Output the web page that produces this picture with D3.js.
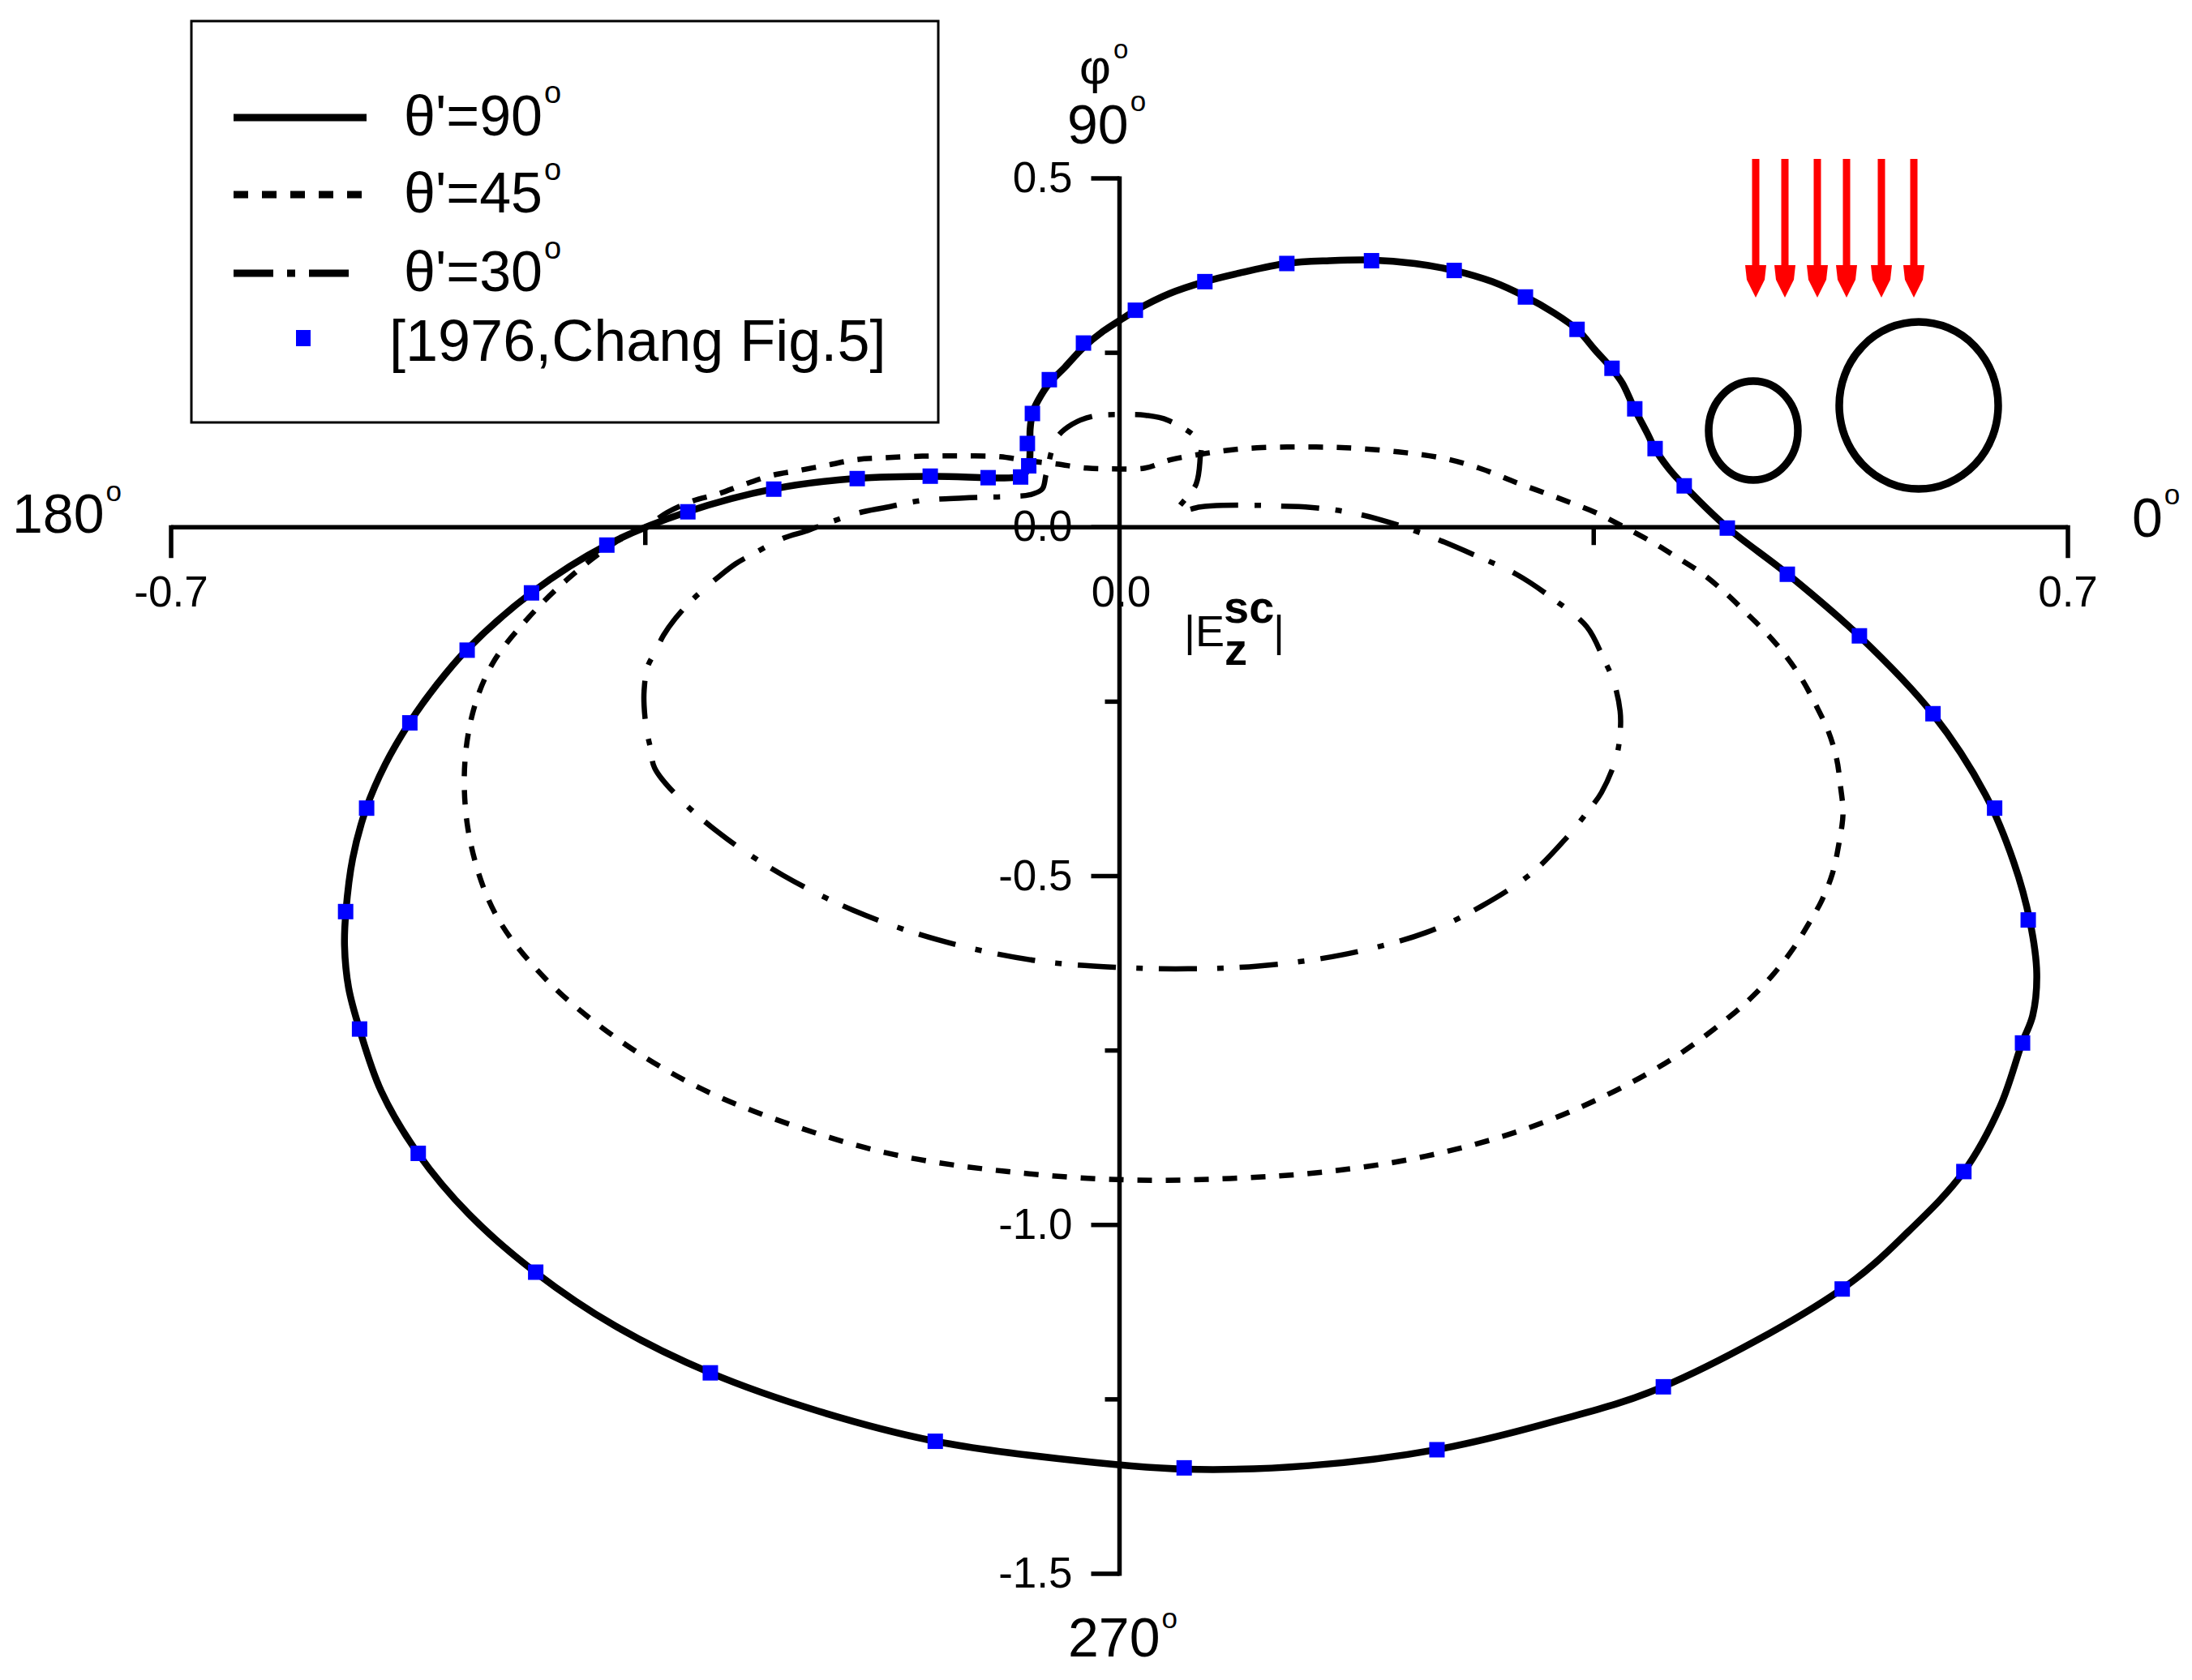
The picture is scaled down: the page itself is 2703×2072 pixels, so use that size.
<!DOCTYPE html>
<html><head><meta charset="utf-8">
<script src="https://cdn.jsdelivr.net/npm/d3@7"></script>
<style>html,body{margin:0;padding:0;background:#fff;} svg{display:block;}</style>
</head><body>
<script>
// ---------------- data (x = |E| cos φ, y = |E| sin φ) ----------------
const legendLabels = ["θ'=90", "θ'=45", "θ'=30", "[1976,Chang Fig.5]"];
const xTickMajor = [-0.7, 0, 0.7];
const xTickLabels = ["-0.7", "0.0", "0.7"];
const xTickMinor = [-0.35, 0.35];
const yTickMajor = [0.5, 0, -0.5, -1.0, -1.5];
const yTickLabels = ["0.5", "0.0", "-0.5", "-1.0", "-1.5"];
const yTickMinor = [0.25, -0.25, -0.75, -1.25];

const theta90 = [
 [-0.137,0.073],[-0.097,0.071],[-0.079,0.071],[-0.071,0.075],[-0.067,0.088],[-0.066,0.115],[-0.066,0.140],
 [-0.064,0.165],[-0.060,0.182],[-0.052,0.206],[-0.040,0.230],[-0.027,0.257],[-0.012,0.281],
 [0.003,0.300],[0.012,0.311],[0.037,0.335],[0.063,0.352],[0.090,0.365],[0.123,0.378],
 [0.155,0.382],[0.186,0.383],[0.218,0.378],[0.247,0.368],[0.275,0.352],[0.300,0.330],
 [0.320,0.308],[0.338,0.283],[0.351,0.254],[0.363,0.228],[0.371,0.207],[0.380,0.170],
 [0.390,0.133],[0.395,0.113],[0.405,0.085],[0.417,0.059],[0.449,-0.001],[0.493,-0.067],
 [0.546,-0.156],[0.600,-0.267],[0.639,-0.383],[0.660,-0.480],[0.672,-0.565],[0.677,-0.640],
 [0.674,-0.700],[0.666,-0.740],[0.650,-0.830],[0.623,-0.924],[0.583,-1.008],[0.533,-1.092],
 [0.401,-1.232],[0.320,-1.282],[0.234,-1.322],[0.140,-1.345],[0.048,-1.350],[-0.045,-1.335],
 [-0.136,-1.310],[-0.222,-1.267],[-0.302,-1.212],[-0.372,-1.145],[-0.431,-1.068],[-0.480,-0.985],
 [-0.518,-0.897],[-0.545,-0.808],[-0.561,-0.719],[-0.569,-0.660],[-0.572,-0.600],[-0.571,-0.551],[-0.566,-0.475],
 [-0.556,-0.403],[-0.542,-0.340],[-0.524,-0.280],[-0.504,-0.226],[-0.482,-0.176],[-0.434,-0.094],
 [-0.378,-0.025],[-0.319,0.022],[-0.255,0.055],[-0.194,0.070]
];

const theta45 = [
 [-0.3473,0.0035],[-0.3341,0.0209],[-0.3156,0.0372],[-0.2965,0.0476],[-0.2767,0.0616],[-0.2564,0.0744],
 [-0.2366,0.0813],[-0.2145,0.0895],[-0.1936,0.0970],[-0.1738,0.0995],[-0.1517,0.1015],[-0.1301,0.1023],
 [-0.1122,0.1023],[-0.0882,0.1011],[-0.0679,0.0953],[-0.0464,0.0906],[-0.0242,0.0848],[-0.0045,0.0837],
 [0.0188,0.0848],[0.0374,0.0965],[0.0595,0.1046],[0.0805,0.1104],[0.1014,0.1139],[0.1235,0.1150],
 [0.1451,0.1150],[0.1672,0.1139],[0.2055,0.1081],[0.2390,0.0988],[0.2671,0.0837],[0.2929,0.0639],
 [0.3126,0.0500],[0.3318,0.0360],[0.3515,0.0209],[0.3706,0.0023],[0.3928,-0.0209],[0.4113,-0.0430],
 [0.4299,-0.0662],[0.4466,-0.0930],[0.4622,-0.1220],[0.4783,-0.1534],[0.4915,-0.1836],[0.5035,-0.2173],
 [0.5142,-0.2557],[0.5232,-0.2928],[0.5292,-0.3312],[0.5322,-0.3719],[0.5340,-0.4102],[0.5310,-0.4532],
 [0.5262,-0.4962],[0.5184,-0.5346],[0.5083,-0.5694],[0.4963,-0.6066],[0.4832,-0.6392],[0.4682,-0.6705],
 [0.4545,-0.6949],[0.4118,-0.7571],[0.3602,-0.8132],[0.2983,-0.8633],[0.2262,-0.9014],[0.1540,-0.9234],
 [0.0817,-0.9334],[0.0043,-0.9354],[-0.0834,-0.9234],[-0.1659,-0.8994],[-0.2381,-0.8593],[-0.3103,-0.8032],
 [-0.3722,-0.7311],[-0.4238,-0.6469],[-0.4599,-0.5568],[-0.4785,-0.4566],[-0.4836,-0.3564],[-0.4774,-0.2663],
 [-0.4630,-0.1962],[-0.4392,-0.1361],[-0.4083,-0.0760],[-0.3722,-0.0219]
];

const theta30 = [
 [0.0428,0.0232],[0.0595,0.0291],[0.0763,0.0314],[0.1032,0.0314],[0.1193,0.0302],[0.1373,0.0291],
 [0.1642,0.0232],[0.1912,0.0116],[0.2271,-0.0116],[0.2630,-0.0407],[0.2929,-0.0674],[0.3198,-0.1023],
 [0.3450,-0.1429],[0.3575,-0.1894],[0.3647,-0.2208],[0.3695,-0.2638],[0.3695,-0.2940],[0.3665,-0.3312],
 [0.3558,-0.3800],[0.3468,-0.4044],[0.3292,-0.4466],[0.3036,-0.4967],[0.2674,-0.5428],[0.2262,-0.5809],
 [0.1643,-0.6129],[0.1024,-0.6289],[0.0508,-0.6329],[-0.0008,-0.6309],[-0.0627,-0.6209],[-0.1349,-0.5909],
 [-0.1968,-0.5488],[-0.2484,-0.4988],[-0.2897,-0.4466],[-0.3206,-0.3966],[-0.3431,-0.3451],[-0.3461,-0.3172],
 [-0.3491,-0.2905],[-0.3509,-0.2557],[-0.3509,-0.2347],[-0.3485,-0.2010],[-0.3425,-0.1778],[-0.3365,-0.1546],
 [-0.3276,-0.1302],[-0.3144,-0.1023],[-0.2965,-0.0720],[-0.2833,-0.0523],[-0.2695,-0.0372],[-0.2474,-0.0151],
 [-0.2318,-0.0058],[-0.2157,0.0058],[-0.1918,0.0209],[-0.1738,0.0279],[-0.1457,0.0383],[-0.1158,0.0418],
 [-0.0991,0.0430],[-0.0781,0.0442],[-0.0661,0.0465],[-0.0571,0.0546],[-0.0542,0.0755],[-0.0464,0.1278],
 [-0.0350,0.1476],[-0.0194,0.1592],[0.0045,0.1615],[0.0194,0.1604],[0.0356,0.1534],[0.0595,0.1220],
 [0.0595,0.0988],[0.0565,0.0616]
];

const chang1976 = [
 [0.0117,0.311],[0.063,0.352],[0.1235,0.378],[0.186,0.382],[0.247,0.368],[0.2996,0.330],
 [0.3377,0.2836],[0.3635,0.2278],[0.3803,0.1697],[0.3953,0.1127],[0.4168,0.0593],[0.4486,-0.0012],
 [0.4929,-0.0674],[0.5461,-0.1557],[0.6004,-0.2673],[0.6459,-0.4026],[0.6707,-0.5629],[0.6665,-0.7392],
 [0.6232,-0.9235],[0.5334,-1.0918],[0.4014,-1.2320],[0.2343,-1.3222],[0.0477,-1.3482],[-0.1360,-1.3101],
 [-0.3020,-1.2120],[-0.4309,-1.0677],[-0.5176,-0.8974],[-0.5609,-0.7192],[-0.5712,-0.5509],[-0.5557,-0.4026],
 [-0.5238,-0.2804],[-0.4815,-0.1762],[-0.4340,-0.0941],[-0.3784,-0.0256],[-0.3186,0.0221],[-0.2552,0.0546],
 [-0.1936,0.0697],[-0.1397,0.0732],[-0.097,0.071],[-0.073,0.072],[-0.067,0.088],[-0.068,0.120],
 [-0.0643,0.163],[-0.0518,0.2115],[-0.0266,0.264]
];

// ---------------- drawing ----------------
const W = 2703, H = 2072;
const FONT = "'Liberation Sans', Arial, sans-serif";
const svg = d3.select("body").append("svg").attr("width", W).attr("height", H)
  .style("font-family", FONT);
svg.append("rect").attr("width", W).attr("height", H).attr("fill", "#fff");

const x = d3.scaleLinear().domain([-0.7, 0.7]).range([211, 2550]);
const y = d3.scaleLinear().domain([-1.5, 0.5]).range([1941, 220]);

const DOT = "18,17", DASHDOT = "47,20,8,25";

// axes
const ax = svg.append("g").attr("stroke", "#000").attr("stroke-width", 5.5).attr("fill", "none");
ax.append("line").attr("x1", x(-0.7)).attr("x2", x(0.7)).attr("y1", y(0)).attr("y2", y(0));
ax.append("line").attr("x1", x(0)).attr("x2", x(0)).attr("y1", y(0.5) - 2.5).attr("y2", y(-1.5) + 2.5);
xTickMajor.filter(d => d !== 0).forEach(d => ax.append("line").attr("x1", x(d)).attr("x2", x(d))
  .attr("y1", y(0) - 2.5).attr("y2", y(0) + 38));
xTickMinor.forEach(d => ax.append("line").attr("x1", x(d)).attr("x2", x(d))
  .attr("y1", y(0)).attr("y2", y(0) + 22));
yTickMajor.forEach(d => ax.append("line").attr("x1", x(0)).attr("x2", x(0) - 35)
  .attr("y1", y(d)).attr("y2", y(d)));
yTickMinor.forEach(d => ax.append("line").attr("x1", x(0)).attr("x2", x(0) - 18)
  .attr("y1", y(d)).attr("y2", y(d)));

// tick labels
const tl = svg.append("g").attr("font-size", 53).attr("fill", "#000");
xTickMajor.forEach((d, i) => tl.append("text").attr("x", x(d) + (d === 0 ? 2 : 0)).attr("y", y(0) + 98)
  .attr("text-anchor", "middle").text(xTickLabels[i]));
yTickMajor.forEach((d, i) => tl.append("text").attr("x", x(0) - 58).attr("y", y(d) + 17)
  .attr("text-anchor", "end").text(yTickLabels[i]));

// degree-labelled axis names
function degLabel(str, xx, yy, size, supSize, supDx, supRise) {
  const t = svg.append("text").attr("x", xx).attr("y", yy).attr("font-size", size).attr("fill", "#000");
  t.append("tspan").text(str);
  t.append("tspan").attr("font-size", supSize).attr("dx", supDx).attr("dy", -supRise).text("o");
  return t;
}
degLabel("180", 15, 657, 68, 35, 2, 39);
degLabel("0", 2629, 662, 68, 35, 2, 40);
degLabel("90", 1316, 177, 68, 35, 2, 40);
degLabel("270", 1317, 2043, 68, 35, 2, 35);
degLabel("φ", 1331, 103, 60, 33, 3, 31);

// |E_z^sc|  (one text element with positioned tspans)
const el = svg.append("text").attr("fill", "#000").attr("font-size", 54);
el.append("tspan").attr("x", 1460).attr("y", 797).text("|E");
el.append("tspan").attr("x", 1509).attr("y", 768).attr("font-size", 56).attr("font-weight", "bold").text("sc");
el.append("tspan").attr("x", 1510).attr("y", 820).attr("font-size", 56).attr("font-weight", "bold").text("z");
el.append("tspan").attr("x", 1570).attr("y", 797).text("|");

// curves
const line = d3.line().x(d => x(d[0])).y(d => y(d[1])).curve(d3.curveCatmullRomClosed.alpha(0.5));
const cg = svg.append("g").attr("fill", "none").attr("stroke", "#000");
cg.append("path").attr("d", line(theta45)).attr("stroke-width", 6.5).attr("stroke-dasharray", DOT);
cg.append("path").attr("d", line(theta30)).attr("stroke-width", 6.5).attr("stroke-dasharray", DASHDOT);
cg.append("path").attr("d", line(theta90)).attr("stroke-width", 8.5).attr("stroke-linejoin", "round");

// reference points
const SQ = 19;
svg.append("g").selectAll("rect").data(chang1976).join("rect")
  .attr("x", d => x(d[0]) - SQ / 2).attr("y", d => y(d[1]) - SQ / 2)
  .attr("width", SQ).attr("height", SQ).attr("fill", "#0000ff");

// legend
const lg = svg.append("g");
lg.append("rect").attr("x", 236).attr("y", 26).attr("width", 921).attr("height", 495)
  .attr("fill", "#fff").attr("stroke", "#000").attr("stroke-width", 3);
const legRows = [
  {y: 145, dash: null, w: 9, x2: 452},
  {y: 240, dash: DOT, w: 9, x2: 454},
  {y: 337, dash: "49,17,10,17", w: 9, x2: 436}
];
legRows.forEach((r, i) => {
  const p = lg.append("line").attr("x1", 288).attr("x2", r.x2).attr("y1", r.y).attr("y2", r.y)
    .attr("stroke", "#000").attr("stroke-width", r.w);
  if (r.dash) p.attr("stroke-dasharray", r.dash);
  const t = lg.append("text").attr("x", 498).attr("y", r.y + 22).attr("font-size", 70).attr("fill", "#000");
  t.append("tspan").text(legendLabels[i]);
  t.append("tspan").attr("font-size", 38).attr("dx", 2).attr("dy", -40).text("o");
});
lg.append("rect").attr("x", 365).attr("y", 407).attr("width", 18).attr("height", 20).attr("fill", "#0000ff");
lg.append("text").attr("x", 480).attr("y", 445).attr("font-size", 72).attr("fill", "#000").text(legendLabels[3]);

// incident-wave arrows & cylinders
const arrowsX = [2165, 2201, 2241, 2277, 2320, 2360];
const ag = svg.append("g").attr("fill", "#ff0000");
arrowsX.forEach(cx => {
  ag.append("rect").attr("x", cx - 4.5).attr("y", 196).attr("width", 9).attr("height", 135);
  ag.append("polygon").attr("points",
    `${cx-13},327 ${cx+13},327 ${cx+11},345 ${cx},367 ${cx-11},345`);
});
const og = svg.append("g").attr("fill", "none").attr("stroke", "#000").attr("stroke-width", 9.5);
og.append("ellipse").attr("cx", 2162).attr("cy", 531).attr("rx", 55).attr("ry", 61);
og.append("ellipse").attr("cx", 2366).attr("cy", 500).attr("rx", 98).attr("ry", 103);
</script>
</body></html>
